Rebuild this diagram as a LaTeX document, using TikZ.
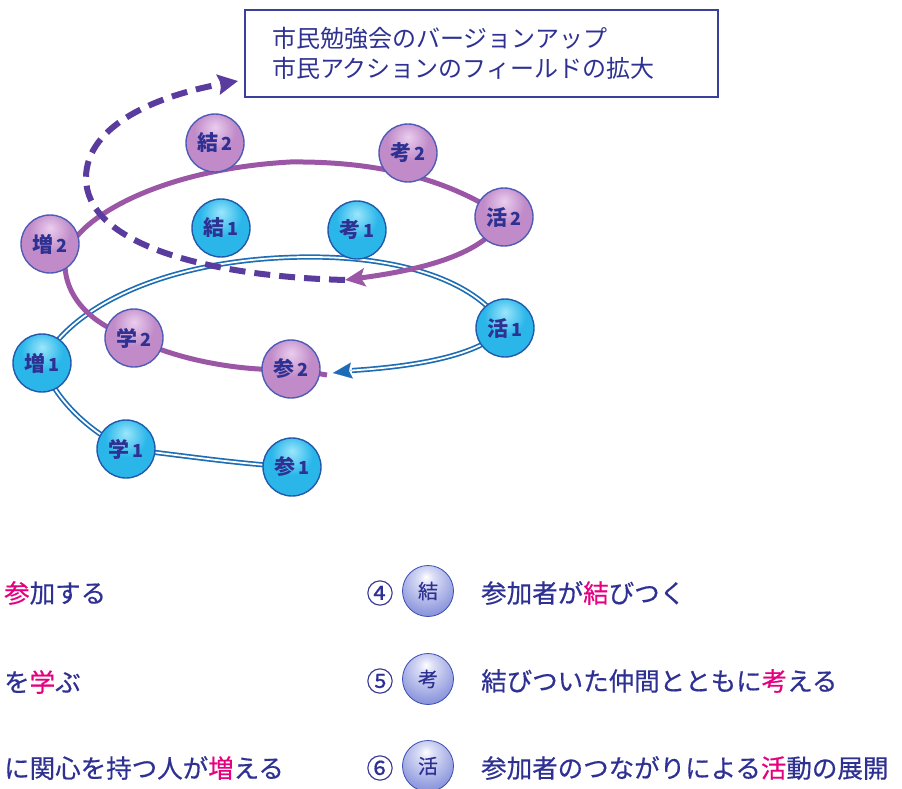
\documentclass[tikz,border=0pt]{standalone}
\usepackage{fontspec}
\newfontfamily\jp{Noto Sans CJK JP}
\newfontfamily\jpm{Noto Sans CJK JP}[FakeBold=0.5]
\usetikzlibrary{arrows.meta}
\definecolor{navy}{HTML}{2E3192}
\definecolor{pinkh}{HTML}{E4007F}
\definecolor{purpline}{HTML}{9B57A5}
\definecolor{dashc}{HTML}{5A3C9E}
\definecolor{blueline}{HTML}{1C6DB5}
\definecolor{boxline}{HTML}{3B3F9C}
\definecolor{cyanhi}{HTML}{9BE6FB}
\definecolor{cyanmid}{HTML}{2BB6EA}
\definecolor{cyanedge}{HTML}{1A8ED0}
\definecolor{bborder}{HTML}{2358AA}
\definecolor{purphi}{HTML}{EACDEE}
\definecolor{purpmid}{HTML}{C08BC8}
\definecolor{purpedge}{HTML}{985AA6}
\definecolor{pborder}{HTML}{4F5BB5}
\definecolor{lavhi}{HTML}{FFFFFF}
\definecolor{lavlight}{HTML}{DCDFF6}
\definecolor{lavmid}{HTML}{97A0E0}
\definecolor{lavdark}{HTML}{5063C2}
\definecolor{lavedge}{HTML}{3A4EB4}
\pgfdeclareradialshading{bluenode}{\pgfpoint{0bp}{14bp}}{color(0bp)=(cyanhi); color(18bp)=(cyanmid); color(48bp)=(cyanmid); color(64bp)=(cyanedge); color(80bp)=(cyanedge)}
\pgfdeclareradialshading{purpnode}{\pgfpoint{0bp}{14bp}}{color(0bp)=(purphi); color(18bp)=(purpmid); color(48bp)=(purpmid); color(64bp)=(purpedge); color(80bp)=(purpedge)}
\pgfdeclareradialshading{lavball}{\pgfpoint{-2bp}{14bp}}{color(0bp)=(lavhi); color(7bp)=(lavlight); color(28bp)=(lavmid); color(50bp)=(lavdark); color(64bp)=(lavedge); color(80bp)=(lavedge)}
\pgfdeclarelayer{bg}
\pgfsetlayers{bg,main}
\tikzset{
  nodebase/.style={circle, minimum size=58pt, inner sep=0pt, line width=1.4pt, text=navy,
    font=\jp\bfseries\fontsize{21}{21}\selectfont},
  bnode/.style={nodebase, draw=bborder, shading=bluenode},
  pnode/.style={nodebase, draw=pborder, shading=purpnode},
  lball/.style={circle, minimum size=51pt, inner sep=0pt, draw=lavedge, line width=0.8pt,
    shading=lavball, text=navy, font=\jpm\fontsize{20}{20}\selectfont},
  legtext/.style={anchor=west, inner sep=0pt, text=navy, font=\jpm\fontsize{25.5}{25.5}\selectfont},
  circnum/.style={inner sep=0pt, text=navy, font=\jpm\fontsize{27}{27}\selectfont},
  blueline/.style={draw=blueline, double=white, double distance=1.8pt, line width=1.7pt},
  purpleline/.style={draw=purpline, line width=5pt},
  dashline/.style={draw=dashc, line width=6pt, dash pattern=on 16pt off 9pt},
}
\newcommand{\nlab}[2]{#1\,{\fontsize{18}{18}\selectfont #2}}
\begin{document}
\begin{tikzpicture}[x=1pt,y=-1pt]
\useasboundingbox (0,0) rectangle (902,789);

% top box
\node[draw=boxline, line width=1.5pt, minimum width=473pt, minimum height=87pt,
      inner xsep=27pt, text width=419pt, align=left, text=navy,
      font=\jp\fontsize{24}{30}\selectfont] (box) at (481.5,53.5)
  {市民勉強会のバージョンアップ\\市民アクションのフィールドの拡大};

% nodes
\node[pnode] (m2) at (215,143) {\nlab{結}{2}};
\node[pnode] (t2) at (408,153) {\nlab{考}{2}};
\node[pnode] (k2) at (504,217) {\nlab{活}{2}};
\node[bnode] (m1) at (221,228) {\nlab{結}{1}};
\node[bnode] (t1) at (357,230) {\nlab{考}{1}};
\node[pnode] (z2) at (50,244) {\nlab{増}{2}};
\node[pnode] (g2) at (134,338) {\nlab{学}{2}};
\node[pnode] (s2) at (291,369) {\nlab{参}{2}};
\node[bnode] (z1) at (42,363) {\nlab{増}{1}};
\node[bnode] (g1) at (126,449) {\nlab{学}{1}};
\node[bnode] (s1) at (292,467) {\nlab{参}{1}};
\node[bnode] (k1) at (505,328) {\nlab{活}{1}};

\coordinate (btip) at (333,373);
\coordinate (bbase) at (352,370.5);
\coordinate (bmid) at (310,257);
\coordinate (pstart) at (327,375);
\coordinate (pleft) at (65,262);
\coordinate (ptop) at (290,162);
\coordinate (ptip) at (345,280);
\coordinate (dleft) at (86,178);
\coordinate (dtip) at (238,81);

\begin{pgfonlayer}{bg}
  % blue double spiral
  \draw[blueline] (s1.center) .. controls (230,463) and (180,455) .. (g1.center)
     .. controls (90,432) and (55,400) .. (z1.center)
     .. controls (75,300) and (180,257) .. (bmid)
     .. controls (410,257) and (480,285) .. (k1.center)
     .. controls (480,355) and (420,366) .. (bbase);
  \draw[draw=blueline, line width=0.1pt, -{Stealth[length=19pt,width=16pt,inset=3pt]}] (bbase) -- (btip);
  % purple spiral
  \draw[purpleline, -{Stealth[length=20pt,width=18pt,inset=4pt]}] (pstart) -- (s2.center)
     .. controls (250,372) and (180,362) .. (g2.center)
     .. controls (90,325) and (64,295) .. (pleft)
     .. controls (66,225) and (150,170) .. (ptop)
     .. controls (380,161) and (450,180) .. (k2.center)
     .. controls (485,255) and (420,270) .. (ptip);
  % dashed continuation
  \draw[dashline, -{Stealth[length=20pt,width=20pt,inset=3pt]}] (ptip)
     .. controls (200,276) and (86,242) .. (dleft)
     .. controls (86,124) and (160,95) .. (dtip);
\end{pgfonlayer}

% legend left
\node[legtext] (l1) at (4,593) {{\color{pinkh}参}加する};
\node[legtext] (l2) at (4,682) {を{\color{pinkh}学}ぶ};
\node[legtext] (l3) at (4,768) {に関心を持つ人が{\color{pinkh}増}える};

% legend right
\node[circnum] (n4) at (380,593) {④};
\node[circnum] (n5) at (380,681) {⑤};
\node[circnum] (n6) at (380,768) {⑥};
\node[lball] (b4) at (428,591) {結};
\node[lball] (b5) at (428,679) {考};
\node[lball] (b6) at (428,766) {活};
\node[legtext] (r1) at (481,593) {参加者が{\color{pinkh}結}びつく};
\node[legtext] (r2) at (481,681) {結びついた仲間とともに{\color{pinkh}考}える};
\node[legtext] (r3) at (481,768) {参加者のつながりによる{\color{pinkh}活}動の展開};
\end{tikzpicture}
\end{document}
